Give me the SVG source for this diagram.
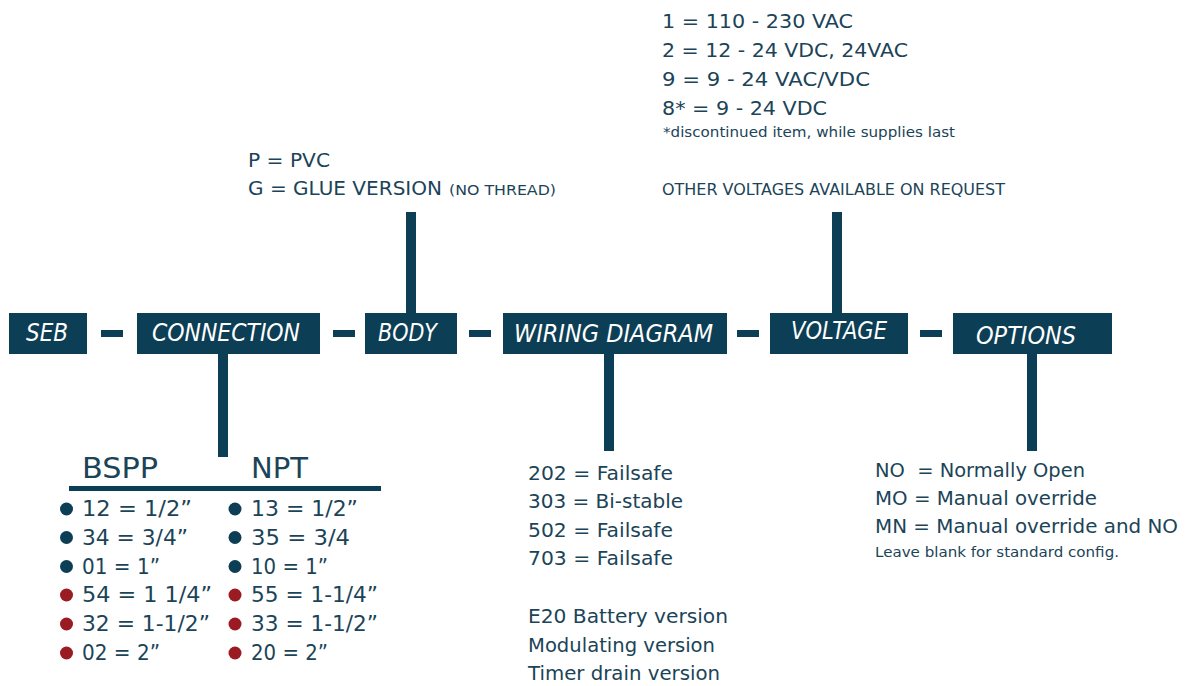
<svg xmlns="http://www.w3.org/2000/svg" width="1186" height="686" viewBox="0 0 1186 686">
<style>
.box{fill:#0c3e55}
.bar{fill:#0c3e55}
.lbl{font-family:"Liberation Sans Narrow","DejaVu Sans Condensed","Liberation Sans",sans-serif;font-style:italic;font-size:24px;fill:#ffffff}
.t{font-family:"DejaVu Sans","Liberation Sans",sans-serif;font-size:20px;fill:#1b4458}
.s{font-family:"DejaVu Sans","Liberation Sans",sans-serif;font-size:14px;fill:#1b4458}
.m{font-family:"DejaVu Sans","Liberation Sans",sans-serif;font-size:16px;fill:#1b4458}
.h{font-family:"DejaVu Sans","Liberation Sans",sans-serif;font-size:29px;fill:#1b4458}
.r{font-family:"DejaVu Sans","Liberation Sans",sans-serif;font-size:21px;fill:#1b4458}
.db{fill:#0c3e55}
.dr{fill:#9a1b22}
</style>
<rect width="1186" height="686" fill="#ffffff"/>
<g id="connectors">
<rect class="bar" x="101" y="330" width="22" height="7"/>
<rect class="bar" x="333" y="330" width="22" height="7"/>
<rect class="bar" x="469" y="330" width="22" height="7"/>
<rect class="bar" x="737" y="330" width="22" height="7"/>
<rect class="bar" x="920" y="330" width="22" height="7"/>
<rect class="bar" x="406" y="212" width="10" height="101"/>
<rect class="bar" x="832" y="212" width="10" height="101"/>
<rect class="bar" x="218" y="354" width="10" height="103"/>
<rect class="bar" x="604" y="354" width="10" height="97"/>
<rect class="bar" x="1027" y="354" width="10" height="97"/>
</g>
<g id="seb">
<rect class="box" x="9" y="313" width="78" height="41"/>
<text class="lbl" x="26" y="341" textLength="42" lengthAdjust="spacingAndGlyphs">SEB</text>
</g>
<g id="connection">
<rect class="box" x="137" y="313" width="183" height="41"/>
<text class="lbl" x="152" y="341" textLength="148" lengthAdjust="spacingAndGlyphs">CONNECTION</text>
</g>
<g id="body">
<rect class="box" x="365" y="313" width="92" height="41"/>
<text class="lbl" x="378" y="341" textLength="59" lengthAdjust="spacingAndGlyphs">BODY</text>
</g>
<g id="wiring">
<rect class="box" x="503" y="313" width="224" height="41"/>
<text class="lbl" x="514" y="342" textLength="199" lengthAdjust="spacingAndGlyphs">WIRING DIAGRAM</text>
</g>
<g id="voltage">
<rect class="box" x="770" y="313" width="138" height="41"/>
<text class="lbl" x="791" y="339" textLength="96" lengthAdjust="spacingAndGlyphs">VOLTAGE</text>
</g>
<g id="options">
<rect class="box" x="953" y="313" width="159" height="41"/>
<text class="lbl" x="976" y="344" textLength="100" lengthAdjust="spacingAndGlyphs">OPTIONS</text>
</g>
<g id="body-codes">
<text class="t" x="248" y="167" textLength="82" lengthAdjust="spacingAndGlyphs">P = PVC</text>
<text class="t" x="248" y="195" textLength="194" lengthAdjust="spacingAndGlyphs">G = GLUE VERSION</text>
<text class="s" x="449" y="195" textLength="107" lengthAdjust="spacingAndGlyphs">(NO THREAD)</text>
</g>
<g id="voltage-codes">
<text class="t" x="662" y="28" textLength="191" lengthAdjust="spacingAndGlyphs">1 = 110 - 230 VAC</text>
<text class="t" x="662" y="57" textLength="246" lengthAdjust="spacingAndGlyphs">2 = 12 - 24 VDC, 24VAC</text>
<text class="t" x="662" y="86" textLength="208" lengthAdjust="spacingAndGlyphs">9 = 9 - 24 VAC/VDC</text>
<text class="t" x="662" y="115" textLength="165" lengthAdjust="spacingAndGlyphs">8* = 9 - 24 VDC</text>
<text class="s" x="663" y="137" textLength="292" lengthAdjust="spacingAndGlyphs">*discontinued item, while supplies last</text>
<text class="m" x="662" y="195" textLength="343" lengthAdjust="spacingAndGlyphs">OTHER VOLTAGES AVAILABLE ON REQUEST</text>
</g>
<g id="connection-codes">
<text class="h" x="82" y="478" textLength="76" lengthAdjust="spacingAndGlyphs">BSPP</text>
<text class="h" x="251" y="478" textLength="57" lengthAdjust="spacingAndGlyphs">NPT</text>
<rect class="bar" x="69" y="486" width="312" height="5"/>
<circle class="db" cx="66.5" cy="509" r="6.5"/>
<circle class="db" cx="66.5" cy="537.5" r="6.5"/>
<circle class="db" cx="66.5" cy="566.5" r="6.5"/>
<circle class="dr" cx="66.5" cy="595" r="6.5"/>
<circle class="dr" cx="66.5" cy="624" r="6.5"/>
<circle class="dr" cx="66.5" cy="653" r="6.5"/>
<circle class="db" cx="235" cy="509" r="6.5"/>
<circle class="db" cx="235" cy="537.5" r="6.5"/>
<circle class="db" cx="235" cy="566.5" r="6.5"/>
<circle class="dr" cx="235" cy="595" r="6.5"/>
<circle class="dr" cx="235" cy="624" r="6.5"/>
<circle class="dr" cx="235" cy="653" r="6.5"/>
<text class="r" x="82" y="516" textLength="110" lengthAdjust="spacingAndGlyphs">12 = 1/2”</text>
<text class="r" x="82" y="544.5" textLength="106" lengthAdjust="spacingAndGlyphs">34 = 3/4”</text>
<text class="r" x="82" y="573.5" textLength="78" lengthAdjust="spacingAndGlyphs">01 = 1”</text>
<text class="r" x="82" y="602" textLength="130" lengthAdjust="spacingAndGlyphs">54 = 1 1/4”</text>
<text class="r" x="82" y="631" textLength="128" lengthAdjust="spacingAndGlyphs">32 = 1-1/2”</text>
<text class="r" x="82" y="660" textLength="78" lengthAdjust="spacingAndGlyphs">02 = 2”</text>
<text class="r" x="251" y="516" textLength="107" lengthAdjust="spacingAndGlyphs">13 = 1/2”</text>
<text class="r" x="251" y="544.5" textLength="99" lengthAdjust="spacingAndGlyphs">35 = 3/4</text>
<text class="r" x="251" y="573.5" textLength="77" lengthAdjust="spacingAndGlyphs">10 = 1”</text>
<text class="r" x="251" y="602" textLength="127" lengthAdjust="spacingAndGlyphs">55 = 1-1/4”</text>
<text class="r" x="251" y="631" textLength="127" lengthAdjust="spacingAndGlyphs">33 = 1-1/2”</text>
<text class="r" x="251" y="660" textLength="77" lengthAdjust="spacingAndGlyphs">20 = 2”</text>
</g>
<g id="wiring-codes">
<text class="t" x="528" y="480" textLength="145" lengthAdjust="spacingAndGlyphs">202 = Failsafe</text>
<text class="t" x="528" y="508" textLength="155" lengthAdjust="spacingAndGlyphs">303 = Bi-stable</text>
<text class="t" x="528" y="537" textLength="145" lengthAdjust="spacingAndGlyphs">502 = Failsafe</text>
<text class="t" x="528" y="565" textLength="145" lengthAdjust="spacingAndGlyphs">703 = Failsafe</text>
<text class="t" x="528" y="623" textLength="200" lengthAdjust="spacingAndGlyphs">E20 Battery version</text>
<text class="t" x="528" y="652" textLength="187" lengthAdjust="spacingAndGlyphs">Modulating version</text>
<text class="t" x="528" y="680" textLength="192" lengthAdjust="spacingAndGlyphs">Timer drain version</text>
</g>
<g id="options-codes">
<text class="t" x="875" y="477" textLength="210" lengthAdjust="spacingAndGlyphs" xml:space="preserve">NO  = Normally Open</text>
<text class="t" x="875" y="505" textLength="222" lengthAdjust="spacingAndGlyphs">MO = Manual override</text>
<text class="t" x="875" y="533" textLength="303" lengthAdjust="spacingAndGlyphs">MN = Manual override and NO</text>
<text class="s" x="875" y="557" textLength="244" lengthAdjust="spacingAndGlyphs">Leave blank for standard config.</text>
</g>
</svg>
